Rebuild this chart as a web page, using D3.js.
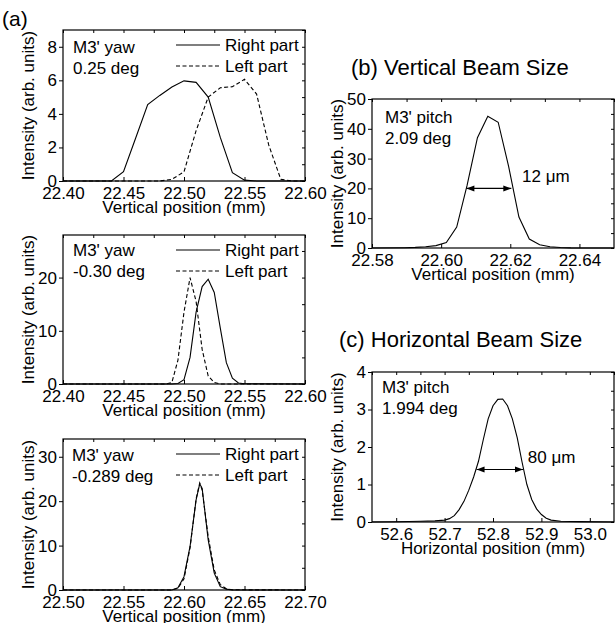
<!DOCTYPE html>
<html lang="en">
<head>
<meta charset="UTF-8">
<title>Beam Size</title>
<script src="https://cdn.jsdelivr.net/npm/d3@7"></script>
<style>
  body { margin: 0; background: #fff; }
  svg text { font-family: "Liberation Sans", Arial, sans-serif; fill: #000; }
</style>
</head>
<body>
<svg id="chart" width="615" height="623"></svg>
<script>
// ---- data ----
// (a) top: yaw 0.25 deg
const xA1 = [22.40, 22.41, 22.42, 22.43, 22.44, 22.45, 22.46, 22.47, 22.48, 22.49, 22.50,
             22.51, 22.52, 22.53, 22.54, 22.55, 22.56, 22.57, 22.58, 22.59, 22.60];
const rightA1 = [0, 0, 0, 0, 0, 0.55, 2.55, 4.55, 5.1, 5.6, 5.97,
                 5.88, 5.0, 2.6, 0.5, 0.05, 0, 0, 0, 0, 0];
const leftA1 = [0, 0, 0, 0, 0, 0, 0, 0, 0, 0.1, 0.55,
                3.0, 5.0, 5.56, 5.62, 6.06, 5.18, 2.15, 0.1, 0, 0];

// (a) middle: yaw -0.30 deg
const xA2Right = [22.40, 22.49, 22.495, 22.50, 22.505, 22.51, 22.515, 22.52, 22.525, 22.53, 22.535, 22.54, 22.545, 22.55, 22.60];
const rightA2 = [0, 0, 0.1, 0.8, 5.0, 13.5, 18.3, 19.7, 17.2, 10.5, 4.0, 1.1, 0.2, 0.05, 0];
const xA2Left = [22.40, 22.485, 22.49, 22.495, 22.50, 22.505, 22.51, 22.515, 22.52, 22.525, 22.53, 22.60];
const leftA2 = [0, 0, 0.3, 4.5, 13.5, 20.0, 15.5, 6.5, 1.5, 0.3, 0, 0];

// (a) bottom: yaw -0.289 deg
const xA3 = [22.50, 22.59, 22.595, 22.60, 22.605, 22.61, 22.613, 22.615, 22.62, 22.625, 22.63, 22.635, 22.64, 22.70];
const rightA3 = [0, 0, 0.5, 3.0, 9.8, 20.3, 23.9, 22.9, 11.3, 3.8, 0.75, 0.2, 0, 0];
const leftA3 = [0, 0, 0.4, 2.5, 9.5, 20.5, 24.1, 22.5, 12.0, 4.5, 1.2, 0.3, 0.05, 0];

// (b) vertical beam size
const xB = [22.58, 22.5895, 22.5925, 22.5955, 22.5985, 22.6015, 22.6045, 22.6075, 22.6105, 22.6135,
            22.6165, 22.6195, 22.6225, 22.6255, 22.6285, 22.6315, 22.6345, 22.6375, 22.65];
const yB = [0, 0.1, 0.2, 0.4, 0.8, 1.8, 7.0, 21, 37, 44.2,
            42.2, 27.5, 10.4, 3.0, 1.1, 0.4, 0.15, 0.05, 0];

// (c) horizontal beam size
const xC = [52.55, 52.60, 52.65, 52.68, 52.70, 52.71, 52.72, 52.73, 52.74, 52.75, 52.76, 52.77, 52.78,
            52.79, 52.80, 52.81, 52.82, 52.83, 52.84, 52.85, 52.86, 52.87, 52.88, 52.89, 52.90,
            52.91, 52.92, 52.94, 52.98, 53.05];
const yC = [0, 0.005, 0.02, 0.03, 0.05, 0.09, 0.17, 0.33, 0.55, 0.85, 1.2, 1.62, 2.2,
            2.75, 3.1, 3.27, 3.28, 3.1, 2.75, 2.25, 1.6, 1.0, 0.6, 0.35, 0.2,
            0.1, 0.05, 0.02, 0.01, 0];

// ticks
const xTicksA12 = [22.40, 22.45, 22.50, 22.55, 22.60];
const xTicksA3 = [22.50, 22.55, 22.60, 22.65, 22.70];
const xTicksB = [22.58, 22.60, 22.62, 22.64];
const xTicksC = [52.6, 52.7, 52.8, 52.9, 53.0];
const yTicksA1 = [0, 2, 4, 6, 8];
const yTicksA2 = [0, 10, 20];
const yTicksA3 = [0, 10, 20, 30];
const yTicksB = [0, 10, 20, 30, 40, 50];
const yTicksC = [0, 1, 2, 3, 4];

const svg = d3.select("#chart");

function range(a, b, step) {
  // tick positions between a and b (for minor ticks)
  const out = [];
  for (let v = a; v <= b + step * 1e-6; v += step) out.push(+v.toFixed(4));
  return out;
}

function panel(o) {
  const x = d3.scaleLinear().domain(o.xDomain).range([o.left, o.right]);
  const y = d3.scaleLinear().domain(o.yDomain).range([o.bottom, o.top]);
  const g = svg.append("g");

  const xMinor = range(o.xDomain[0], o.xDomain[1], o.xMinor);
  const yMinor = range(o.yDomain[0], o.yDomain[1], o.yMinor);

  // ticks: labels on left / bottom, inward marks on all sides
  g.append("g")
    .attr("transform", `translate(${o.left},0)`)
    .call(d3.axisLeft(y).tickValues(o.yTicks).tickSize(4).tickPadding(2).tickFormat(d3.format("d")))
    .call(a => a.select(".domain").remove())
    .call(a => a.selectAll("text").attr("font-size", 17));
  g.append("g")
    .attr("transform", `translate(0,${o.bottom})`)
    .call(d3.axisBottom(x).tickValues(o.xTicks).tickSize(-4).tickPadding(6).tickFormat(d3.format(o.xFmt)))
    .call(a => a.select(".domain").remove())
    .call(a => a.selectAll("text").attr("font-size", 17));
  g.append("g")
    .attr("transform", `translate(0,${o.top})`)
    .call(d3.axisTop(x).tickValues(xMinor).tickSize(-3).tickFormat(""))
    .call(a => a.select(".domain").remove());
  g.append("g")
    .attr("transform", `translate(${o.right},0)`)
    .call(d3.axisRight(y).tickValues(yMinor).tickSize(-3).tickFormat(""))
    .call(a => a.select(".domain").remove());

  // curves
  o.series.forEach(s => {
    const pts = s.x.map((v, i) => [v, s.y[i]]);
    g.append("path")
      .datum(pts)
      .attr("fill", "none")
      .attr("stroke", "#000")
      .attr("stroke-width", 1.1)
      .attr("stroke-dasharray", s.dashed ? "4,2.5" : null)
      .attr("d", d3.line().x(d => x(d[0])).y(d => y(d[1])));
  });

  // frame
  g.append("rect")
    .attr("x", o.left).attr("y", o.top)
    .attr("width", o.right - o.left).attr("height", o.bottom - o.top)
    .attr("fill", "none").attr("stroke", "#000").attr("stroke-width", 1.2);

  // axis titles
  g.append("text")
    .attr("x", (o.left + o.right) / 2).attr("y", o.bottom + 32)
    .attr("text-anchor", "middle").attr("font-size", 17)
    .text(o.xLabel);
  g.append("text")
    .attr("transform", `translate(${o.left - 29},${(o.top + o.bottom) / 2}) rotate(-90)`)
    .attr("text-anchor", "middle").attr("font-size", 17)
    .text("Intensity (arb. units)");

  // annotation text inside the frame
  o.notes.forEach((t, i) => {
    g.append("text")
      .attr("x", o.left + o.noteDx).attr("y", o.top + o.noteDy + i * 21)
      .attr("font-size", 17).text(t);
  });

  if (o.legend) {
    const items = [["Right part", false], ["Left part", true]];
    items.forEach(([name, dashed], i) => {
      const ly = o.top + 15 + i * 21;
      g.append("line")
        .attr("x1", o.left + 113).attr("x2", o.left + 157)
        .attr("y1", ly).attr("y2", ly)
        .attr("stroke", "#000").attr("stroke-width", 1.1)
        .attr("stroke-dasharray", dashed ? "4,2.5" : null);
      g.append("text")
        .attr("x", o.left + 162).attr("y", ly + 6)
        .attr("font-size", 17).text(name);
    });
  }

  if (o.arrow) {
    const a = o.arrow;
    const ay = y(a.y), ax1 = x(a.x1), ax2 = x(a.x2);
    g.append("line")
      .attr("x1", ax1).attr("x2", ax2).attr("y1", ay).attr("y2", ay)
      .attr("stroke", "#000").attr("stroke-width", 1.1);
    [[ax1, 1], [ax2, -1]].forEach(([px, dir]) => {
      g.append("path")
        .attr("d", `M${px},${ay} L${px + dir * 8},${ay - 3} L${px + dir * 8},${ay + 3} Z`)
        .attr("fill", "#000");
    });
    g.append("text")
      .attr("x", x(a.tx)).attr("y", y(a.ty) + 6)
      .attr("font-size", 17).text(a.text);
  }
}

// panel labels
svg.append("text").attr("x", 2).attr("y", 26).attr("font-size", 21).text("(a)");
svg.append("text").attr("x", 351).attr("y", 75).attr("font-size", 22).text("(b) Vertical Beam Size");
svg.append("text").attr("x", 339).attr("y", 347).attr("font-size", 22).text("(c) Horizontal Beam Size");

panel({
  left: 63, right: 305, top: 30, bottom: 181,
  xDomain: [22.40, 22.60], yDomain: [0, 9], xTicks: xTicksA12, yTicks: yTicksA1,
  xMinor: 0.025, yMinor: 1, xFmt: ".2f", xLabel: "Vertical position (mm)",
  series: [{ x: xA1, y: rightA1 }, { x: xA1, y: leftA1, dashed: true }],
  notes: ["M3' yaw", "0.25 deg"], noteDx: 10, noteDy: 23, legend: true
});

panel({
  left: 63, right: 305, top: 235, bottom: 384,
  xDomain: [22.40, 22.60], yDomain: [0, 28], xTicks: xTicksA12, yTicks: yTicksA2,
  xMinor: 0.025, yMinor: 5, xFmt: ".2f", xLabel: "Vertical position (mm)",
  series: [{ x: xA2Right, y: rightA2 }, { x: xA2Left, y: leftA2, dashed: true }],
  notes: ["M3' yaw", "-0.30 deg"], noteDx: 10, noteDy: 21, legend: true
});

panel({
  left: 63, right: 305, top: 439, bottom: 590,
  xDomain: [22.50, 22.70], yDomain: [0, 34], xTicks: xTicksA3, yTicks: yTicksA3,
  xMinor: 0.025, yMinor: 5, xFmt: ".2f", xLabel: "Vertical position (mm)",
  series: [{ x: xA3, y: rightA3 }, { x: xA3, y: leftA3, dashed: true }],
  notes: ["M3' yaw", "-0.289 deg"], noteDx: 9, noteDy: 22, legend: true
});

panel({
  left: 372, right: 614, top: 99, bottom: 248,
  xDomain: [22.58, 22.65], yDomain: [0, 50], xTicks: xTicksB, yTicks: yTicksB,
  xMinor: 0.01, yMinor: 5, xFmt: ".2f", xLabel: "Vertical position (mm)",
  series: [{ x: xB, y: yB }],
  notes: ["M3' pitch", "2.09 deg"], noteDx: 13, noteDy: 24,
  arrow: { x1: 22.6073, x2: 22.6203, y: 20, tx: 22.6234, ty: 24, text: "12 \u03bcm" }
});

panel({
  left: 372, right: 614, top: 372, bottom: 522,
  xDomain: [52.55, 53.05], yDomain: [0, 4], xTicks: xTicksC, yTicks: yTicksC,
  xMinor: 0.05, yMinor: 0.5, xFmt: ".1f", xLabel: "Horizontal position (mm)",
  series: [{ x: xC, y: yC }],
  notes: ["M3' pitch", "1.994 deg"], noteDx: 10, noteDy: 21,
  arrow: { x1: 52.766, x2: 52.862, y: 1.4, tx: 52.872, ty: 1.73, text: "80 \u03bcm" }
});
</script>
</body>
</html>
